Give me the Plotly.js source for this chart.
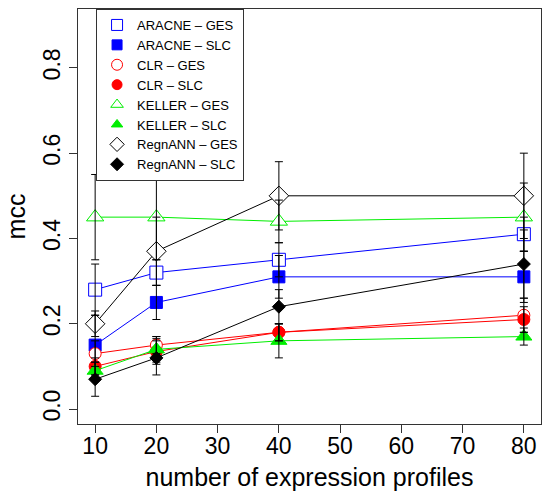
<!DOCTYPE html>
<html>
<head>
<meta charset="utf-8">
<script src="https://cdn.plot.ly/plotly-3.0.1.min.js"></script>
<style>html,body{margin:0;padding:0;background:#fff}#chart{width:543px;height:491px}</style>
</head>
<body>
<div id="chart"></div>
<script>
var profiles = [10, 20, 40, 80];
var aracneGes = [0.28, 0.32, 0.35, 0.41];
var aracneGesErr = [0.06, 0.03, 0.04, 0.04];
var aracneSlc = [0.15, 0.25, 0.31, 0.31];
var aracneSlcErr = [0.07, 0.04, 0.05, 0.06];
var clrGes = [0.13, 0.15, 0.18, 0.22];
var clrGesErr = [0.03, 0.02, 0.02, 0.04];
var clrSlc = [0.10, 0.135, 0.18, 0.21];
var clrSlcErr = [0.02, 0.03, 0.02, 0.03];
var kellerGes = [0.45, 0.45, 0.44, 0.45];
var kellerGesErr = [0.10, 0.10, 0.05, 0.08];
var kellerSlc = [0.09, 0.14, 0.16, 0.17];
var kellerSlcErr = [0.02, 0.03, 0.04, 0.02];
var regnGes = [0.20, 0.37, 0.50, 0.50];
var regnGesErr = [0.03, 0.08, 0.08, 0.10];
var regnSlc = [0.07, 0.12, 0.24, 0.34];
var regnSlcErr = [0.04, 0.04, 0.04, 0.08];
var seriesNames = ["ARACNE – GES", "ARACNE – SLC", "CLR – GES", "CLR – SLC",
                   "KELLER – GES", "KELLER – SLC", "RegnANN – GES", "RegnANN – SLC"];
var yTicks = [0.0, 0.2, 0.4, 0.6, 0.8];
var xTicks = [10, 20, 30, 40, 50, 60, 70, 80];

var series = [
  {y: aracneGes, e: aracneGesErr, color: "#0000FF", sym: "square", open: true, size: 13},
  {y: aracneSlc, e: aracneSlcErr, color: "#0000FF", sym: "square", open: false, size: 12},
  {y: clrGes, e: clrGesErr, color: "#FF0000", sym: "circle", open: true, size: 12},
  {y: clrSlc, e: clrSlcErr, color: "#FF0000", sym: "circle", open: false, size: 12},
  {y: kellerGes, e: kellerGesErr, color: "#00EE00", sym: "triangle-up", open: true, size: 15},
  {y: kellerSlc, e: kellerSlcErr, color: "#00EE00", sym: "triangle-up", open: false, size: 14},
  {y: regnGes, e: regnGesErr, color: "#000000", sym: "diamond", open: true, size: 15},
  {y: regnSlc, e: regnSlcErr, color: "#000000", sym: "diamond", open: false, size: 10}
];

var traces = [];
series.forEach(function (s, i) {
  traces.push({
    x: profiles, y: s.y, type: "scatter", mode: "lines+markers", showlegend: false,
    hoverinfo: "skip",
    line: {color: s.color, width: 1},
    marker: {symbol: s.sym, size: s.size, color: s.open ? "#FFFFFF" : s.color,
             line: {color: s.color, width: 1}}
  });
});
series.forEach(function (s, i) {
  traces.push({
    x: profiles, y: s.y, type: "scatter", mode: "markers", showlegend: false,
    hoverinfo: "skip",
    marker: {size: 1, opacity: 0},
    error_y: {type: "data", array: s.e, visible: true, color: "#000000", thickness: 1, width: 4}
  });
});
series.forEach(function (s, i) {
  traces.push({
    x: [null], y: [null], type: "scatter", mode: "markers", name: seriesNames[i],
    marker: {symbol: s.sym + (s.open ? "-open" : ""), size: s.open ? 11 : 10, color: s.color,
             line: {color: s.color, width: 1}}
  });
});

var layout = {
  width: 543, height: 491,
  margin: {l: 78, r: 2, t: 9, b: 67},
  paper_bgcolor: "#FFFFFF", plot_bgcolor: "#FFFFFF",
  font: {family: "Liberation Sans, Arial, sans-serif", color: "#000000", size: 23},
  showlegend: true,
  legend: {x: 0.039, y: 1, xanchor: "left", yanchor: "top", bgcolor: "#FFFFFF",
           bordercolor: "#333333", borderwidth: 1, font: {size: 13}, tracegroupgap: 0,
           itemwidth: 30},
  xaxis: {range: [7.2, 82.8], tickvals: xTicks, ticks: "outside", ticklen: 8,
          tickcolor: "#333333", showline: true, linecolor: "#333333", linewidth: 1, mirror: true,
          showgrid: false, zeroline: false, tickfont: {size: 23}, ticklabelstandoff: -7,
          title: {text: "number of expression profiles", font: {size: 25}, standoff: 10}},
  yaxis: {range: [-0.035, 0.938], tickvals: yTicks, tickformat: ".1f", ticks: "outside", ticklen: 8,
          tickcolor: "#333333", showline: true, linecolor: "#333333", linewidth: 1, mirror: true,
          showgrid: false, zeroline: false, tickangle: -90, tickfont: {size: 23},
          title: {text: "mcc", font: {size: 25}, standoff: 6}}
};

Plotly.newPlot("chart", traces, layout, {staticPlot: true});
</script>
</body>
</html>
